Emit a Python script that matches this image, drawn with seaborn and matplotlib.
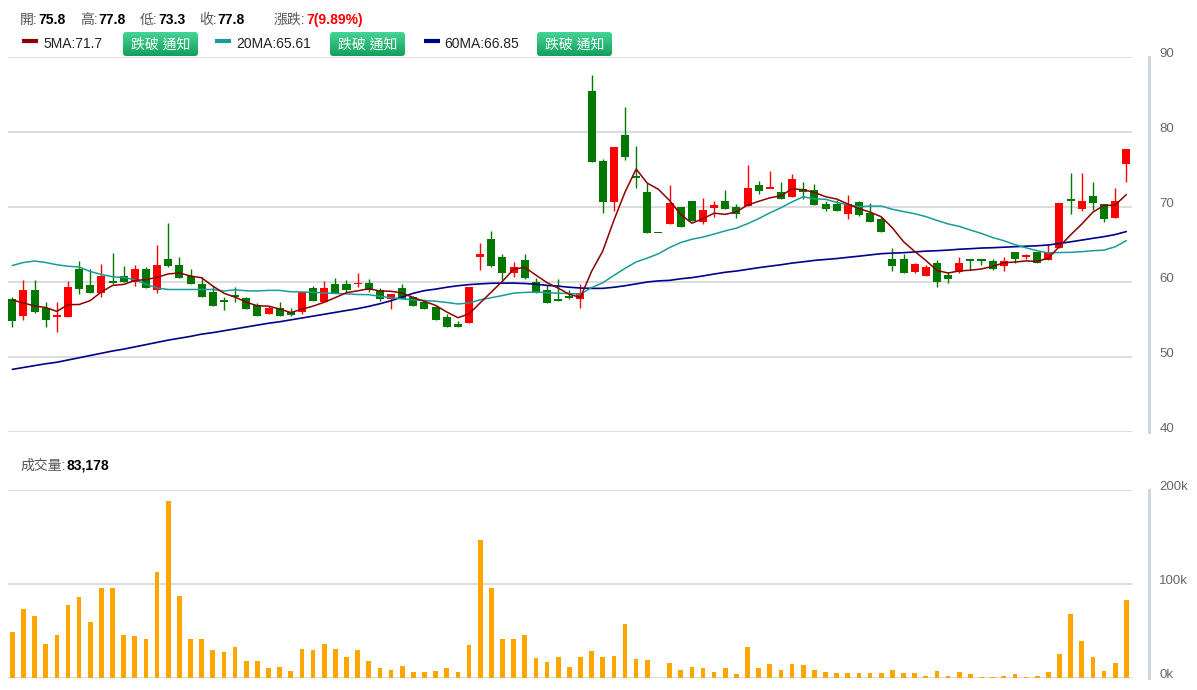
import numpy as np
import pandas as pd
import matplotlib
matplotlib.use("Agg")
import matplotlib.pyplot as plt
import seaborn as sns
from matplotlib.patches import FancyBboxPatch
from matplotlib.colors import LinearSegmentedColormap

# ---------------- data ----------------
opens = [57.7, 55.5, 59.0, 56.6, 55.4, 55.3, 61.8, 59.6, 58.6, 60.1,
         60.8, 60.0, 61.7, 58.9, 63.1, 62.3, 60.8, 59.8, 58.7, 57.6,
         58.3, 57.9, 57.0, 55.8, 56.6, 56.0, 56.0, 59.2, 57.3, 59.7,
         59.7, 59.7, 59.9, 59.0, 57.7, 59.2, 58.0, 57.3, 56.7, 55.3,
         54.4, 54.6, 63.3, 65.8, 63.4, 61.2, 62.9, 60.0, 59.0, 57.7,
         58.1, 57.8, 85.4, 76.2, 70.7, 79.6, 74.1, 72.0, 66.6, 67.8,
         70.0, 70.8, 68.0, 69.9, 70.8, 70.0, 70.2, 73.0, 72.55, 72.0,
         71.4, 72.4, 72.3, 70.4, 70.4, 69.1, 70.7, 69.2, 68.4, 63.1,
         63.1, 61.4, 60.8, 62.6, 60.9, 61.4, 63.05, 63.05, 62.8, 62.2,
         64.0, 63.3, 64.0, 63.0, 64.6, 71.0, 69.7, 71.5, 70.4, 68.5,
         75.8]
highs = [58.0, 60.3, 60.3, 57.3, 57.3, 60.1, 62.8, 61.7, 62.4, 63.9,
         62.1, 62.3, 62.0, 64.9, 67.9, 63.4, 61.8, 60.7, 59.5, 58.0,
         59.3, 58.0, 57.2, 56.8, 57.3, 56.5, 58.7, 59.5, 60.1, 60.6,
         60.3, 61.2, 60.4, 59.2, 58.4, 59.8, 58.2, 57.5, 56.9, 55.7,
         54.8, 59.3, 65.2, 66.8, 63.8, 62.7, 63.7, 60.5, 59.6, 60.4,
         58.9, 59.8, 87.6, 76.4, 78.0, 83.3, 78.2, 73.2, 66.6, 72.9,
         70.0, 70.8, 71.2, 70.8, 72.3, 70.4, 75.6, 73.5, 74.8, 73.3,
         74.4, 73.4, 73.1, 70.8, 71.0, 71.6, 70.8, 70.5, 68.7, 64.5,
         63.7, 62.6, 62.3, 62.9, 61.3, 63.4, 63.1, 63.1, 63.1, 63.4,
         64.0, 63.8, 64.0, 65.1, 70.5, 74.5, 74.5, 73.4, 70.4, 72.5,
         77.8]
lows = [54.0, 55.0, 55.9, 54.0, 53.4, 55.3, 58.4, 58.6, 58.0, 59.8,
        60.0, 59.5, 59.2, 58.5, 62.0, 60.6, 59.7, 58.0, 56.8, 56.3,
        57.4, 56.4, 55.5, 55.8, 55.5, 55.5, 55.8, 57.5, 57.3, 58.6,
        58.7, 59.4, 58.7, 57.5, 56.4, 57.8, 56.8, 56.4, 55.0, 54.0,
        54.0, 54.5, 61.6, 62.0, 60.3, 60.7, 60.4, 58.6, 57.2, 57.5,
        57.7, 56.5, 76.0, 69.2, 69.5, 76.3, 72.6, 66.6, 66.6, 67.7,
        67.4, 68.1, 67.7, 68.7, 69.7, 68.5, 70.2, 71.8, 72.5, 71.1,
        71.4, 71.1, 70.3, 69.5, 69.5, 68.4, 68.8, 68.0, 66.7, 61.5,
        61.2, 61.2, 60.8, 59.4, 59.9, 61.2, 61.6, 62.3, 61.6, 61.5,
        62.6, 63.1, 62.5, 63.0, 64.6, 69.1, 69.5, 69.6, 68.0, 68.5,
        73.3]
closes = [54.8, 59.0, 56.0, 55.0, 55.6, 59.3, 59.1, 58.6, 60.8, 59.9,
          60.0, 61.7, 59.2, 62.3, 62.2, 60.6, 59.7, 58.0, 56.8, 57.4,
          58.0, 56.4, 55.5, 56.6, 55.5, 55.6, 58.7, 57.5, 59.2, 58.6,
          58.9, 59.9, 58.9, 57.7, 58.4, 57.8, 56.8, 56.4, 55.0, 54.0,
          54.0, 59.3, 63.8, 62.2, 61.2, 62.0, 60.6, 58.6, 57.2, 57.5,
          57.9, 58.5, 76.0, 70.7, 78.0, 76.7, 73.9, 66.6, 66.6, 70.5,
          67.4, 68.1, 69.6, 70.3, 69.7, 69.1, 72.6, 72.1, 72.6, 71.1,
          73.7, 72.0, 70.3, 69.8, 69.5, 70.4, 68.9, 68.0, 66.7, 62.1,
          61.2, 62.4, 62.0, 60.0, 60.4, 62.6, 62.85, 62.85, 61.7, 62.8,
          63.1, 63.6, 62.5, 64.0, 70.5, 70.8, 70.8, 70.5, 68.4, 70.8,
          77.8]
volumes_k = [49.2, 73.6, 66.2, 36.4, 46.3, 77.5, 86.4, 60.1, 96.2, 96.2,
             46.3, 45.3, 41.4, 112.6, 188.3, 87.4, 41.4, 41.4, 30.1, 27.9,
             32.9, 18.0, 18.0, 10.6, 11.7, 7.8, 31.5, 30.1, 36.4, 31.5,
             22.6, 30.1, 18.0, 10.6, 9.2, 13.1, 6.7, 6.7, 7.8, 10.6,
             6.7, 35.4, 146.9, 96.2, 41.4, 41.4, 46.3, 21.6, 17.7, 22.6,
             11.7, 22.6, 29.0, 22.6, 24.0, 57.7, 20.2, 19.1, 0.0, 16.6,
             8.8, 11.7, 10.6, 6.4, 10.6, 4.2, 32.9, 10.6, 15.2, 8.8,
             15.2, 14.1, 8.8, 6.7, 5.3, 5.3, 5.3, 5.3, 5.3, 8.8,
             5.3, 5.3, 2.8, 7.4, 2.8, 6.4, 4.2, 1.4, 1.4, 2.8,
             4.2, 1.4, 2.8, 6.4, 25.5, 68.6, 40.0, 22.3, 7.4, 16.3,
             83.178]

# moving-average values before enough in-window history exists
ma5_head = [57.6, 57.2, 56.8, 56.6]
ma20_head = [62.2, 62.6, 62.8, 62.6, 62.3, 62.1, 62.0, 61.4, 61.0, 60.7,
             60.6, 60.3, 59.7, 59.2, 59.0, 59.0, 59.0, 59.0, 59.0]
ma60_head = [48.35, 48.6, 48.85, 49.1, 49.3, 49.6, 49.9, 50.2, 50.5, 50.8,
             51.05, 51.35, 51.65, 51.95, 52.25, 52.5, 52.75, 53.05, 53.25, 53.5,
             53.75, 54.0, 54.25, 54.5, 54.7, 54.95, 55.2, 55.45, 55.7, 55.95,
             56.2, 56.45, 56.75, 57.1, 57.5, 58.0, 58.5, 58.85, 59.05, 59.3,
             59.5, 59.65, 59.75, 59.83, 59.85, 59.85, 59.8, 59.7, 59.55, 59.45,
             59.3, 59.2, 59.15, 59.15, 59.3, 59.5, 59.75, 60.0, 60.15]

price_ticks = [40, 50, 60, 70, 80, 90]
volume_ticks = [0, 100, 200]
volume_tick_labels = ["0k", "100k", "200k"]
header_labels = ["開:", "高:", "低:", "收:"]
ma_labels = ["5MA:71.7", "20MA:65.61", "60MA:66.85"]
button_text = "跌破 通知"
volume_label = "成交量:"
volume_value_text = "83,178"

# ---------------- derived ----------------
n = len(closes)
idx = np.arange(n)
o = np.array(opens); h = np.array(highs); l = np.array(lows); c = np.array(closes)
vol = np.array(volumes_k)
cs = pd.Series(c)
ma5 = np.concatenate([ma5_head, cs.rolling(5).mean().values[len(ma5_head):]])
ma20 = np.concatenate([ma20_head, cs.rolling(20).mean().values[len(ma20_head):]])
ma60 = np.concatenate([ma60_head, cs.rolling(60).mean().values[len(ma60_head):]])

RED = "#ff0000"
GREEN = "#007800"
C5, C20, C60 = "#8b0000", "#1a9a9a", "#00008b"

sns.set_theme(style="white")
plt.rcParams["font.family"] = ["Liberation Sans", "Noto Sans CJK TC", "DejaVu Sans"]

W, H = 1197, 690
fig = plt.figure(figsize=(W / 100, H / 100), dpi=100)
fig.patch.set_facecolor("white")

def fx(px):
    return px / W

def fy(py):
    return 1 - py / H

L, R = 7.5, 1132
ax = fig.add_axes([fx(L), fy(432), fx(R) - fx(L), fy(57) - fy(432)])
axv = fig.add_axes([fx(L), fy(678.3), fx(R) - fx(L), fy(490) - fy(678.3)])
XLIM = (-0.43, 100.51)

# ---------------- price panel ----------------
colors = np.where(c > o, RED, GREEN)
ax.vlines(idx, l, h, colors=colors, lw=1.0, zorder=2)
body_lo = np.minimum(o, c)
body_h = np.abs(c - o)
minh = 0.22
small = body_h < minh
body_lo = np.where(small, (o + c) / 2 - minh / 2, body_lo)
body_h = np.where(small, minh, body_h)
ax.bar(idx, body_h, bottom=body_lo, width=0.72, color=colors, linewidth=0, zorder=2)

sns.lineplot(x=idx, y=ma60, ax=ax, color=C60, lw=1.2, zorder=3)
sns.lineplot(x=idx, y=ma20, ax=ax, color=C20, lw=1.1, zorder=3)
sns.lineplot(x=idx, y=ma5, ax=ax, color=C5, lw=1.1, zorder=4)

ax.set_xlim(*XLIM)
ax.set_ylim(40, 90)
ax.set_yticks(price_ticks)
ax.set_xticks([])
ax.set_xlabel(""); ax.set_ylabel("")
ax.grid(axis="y", color="#d6d6d6", lw=1.2)
ax.set_axisbelow(True)
for gl in ax.get_ygridlines():
    gl.set_clip_on(False)

# ---------------- volume panel ----------------
sns.barplot(x=idx, y=vol, ax=axv, native_scale=True, width=0.42, color="#ffa500",
            saturation=1, errorbar=None, linewidth=0, zorder=2)
axv.set_xlim(*XLIM)
axv.set_ylim(0, 200)
axv.set_yticks(volume_ticks)
axv.set_yticklabels(volume_tick_labels)
axv.set_xticks([])
axv.set_xlabel(""); axv.set_ylabel("")
axv.grid(axis="y", color="#d6d6d6", lw=1.2)
axv.set_axisbelow(True)
for gl in axv.get_ygridlines():
    gl.set_clip_on(False)

for a in (ax, axv):
    a.set_facecolor("none")
    for s in ("top", "left", "bottom"):
        a.spines[s].set_visible(False)
    a.spines["right"].set_visible(True)
    a.spines["right"].set_position(("outward", 17 * 0.72))
    a.spines["right"].set_color("#c8d5e3")
    a.spines["right"].set_linewidth(2)
    a.yaxis.tick_right()
    a.tick_params(axis="y", length=0, pad=7.5, labelsize=9.5, labelcolor="#666666")
    for t in a.get_yticklabels():
        t.set_verticalalignment("baseline")

# ---------------- header overlay ----------------
ov = fig.add_axes([0, 0, 1, 1])
ov.set_xlim(0, W); ov.set_ylim(H, 0)
ov.axis("off")
renderer = fig.canvas.get_renderer()

def width_px(t):
    return t.get_window_extent(renderer=renderer).width

FS = 10
lab_col = "#555555"

def pair(x, y, label, value, vcolor="black"):
    t = ov.text(x, y, label, fontsize=FS, color=lab_col, va="center", ha="left")
    ov.text(x + width_px(t) + 1, y, value, fontsize=FS, color=vcolor, fontweight="bold",
            va="center", ha="left")

head_vals = [f"{o[-1]:.1f}", f"{h[-1]:.1f}", f"{l[-1]:.1f}", f"{c[-1]:.1f}"]
lab_x = [20, 80, 140, 199]
for lx, lt, vt in zip(lab_x, header_labels, head_vals):
    pair(lx, 20, lt, vt)
chg = c[-1] - c[-2]
pair(274, 20, "漲跌:", f"{chg:.0f}({chg / c[-2] * 100:.2f}%)", vcolor="red")

cmap = LinearSegmentedColormap.from_list("btn", ["#45d496", "#12a05c"])
grad = np.linspace(0, 1, 64).reshape(-1, 1)

def button(x0, y0, w, hgt):
    patch = FancyBboxPatch((x0, y0), w, hgt, boxstyle="round,pad=0,rounding_size=3",
                           facecolor="none", edgecolor="none", transform=ov.transData)
    ov.add_patch(patch)
    im = ov.imshow(grad, extent=[x0, x0 + w, y0 + hgt, y0], cmap=cmap, aspect="auto",
                   zorder=1, interpolation="bilinear")
    im.set_clip_path(patch)
    ov.text(x0 + w / 2, y0 + hgt / 2 + 0.5, button_text, fontsize=FS, color="white",
            ha="center", va="center", zorder=2)

legend_specs = [(22, 43, C5, 123), (215, 236, C20, 330), (424, 444, C60, 537)]
for (mx, tx, col, bx), lab in zip(legend_specs, ma_labels):
    ov.plot([mx, mx + 16], [40.5, 40.5], color=col, lw=3.0, solid_capstyle="butt")
    ov.text(tx, 44, lab, fontsize=FS, color="#222222", va="center", ha="left")
    button(bx, 32, 75, 24)

pair(20, 466, volume_label, volume_value_text)
ov.set_xlim(0, W); ov.set_ylim(H, 0)

fig.savefig("out.png", dpi=100, facecolor="white")
